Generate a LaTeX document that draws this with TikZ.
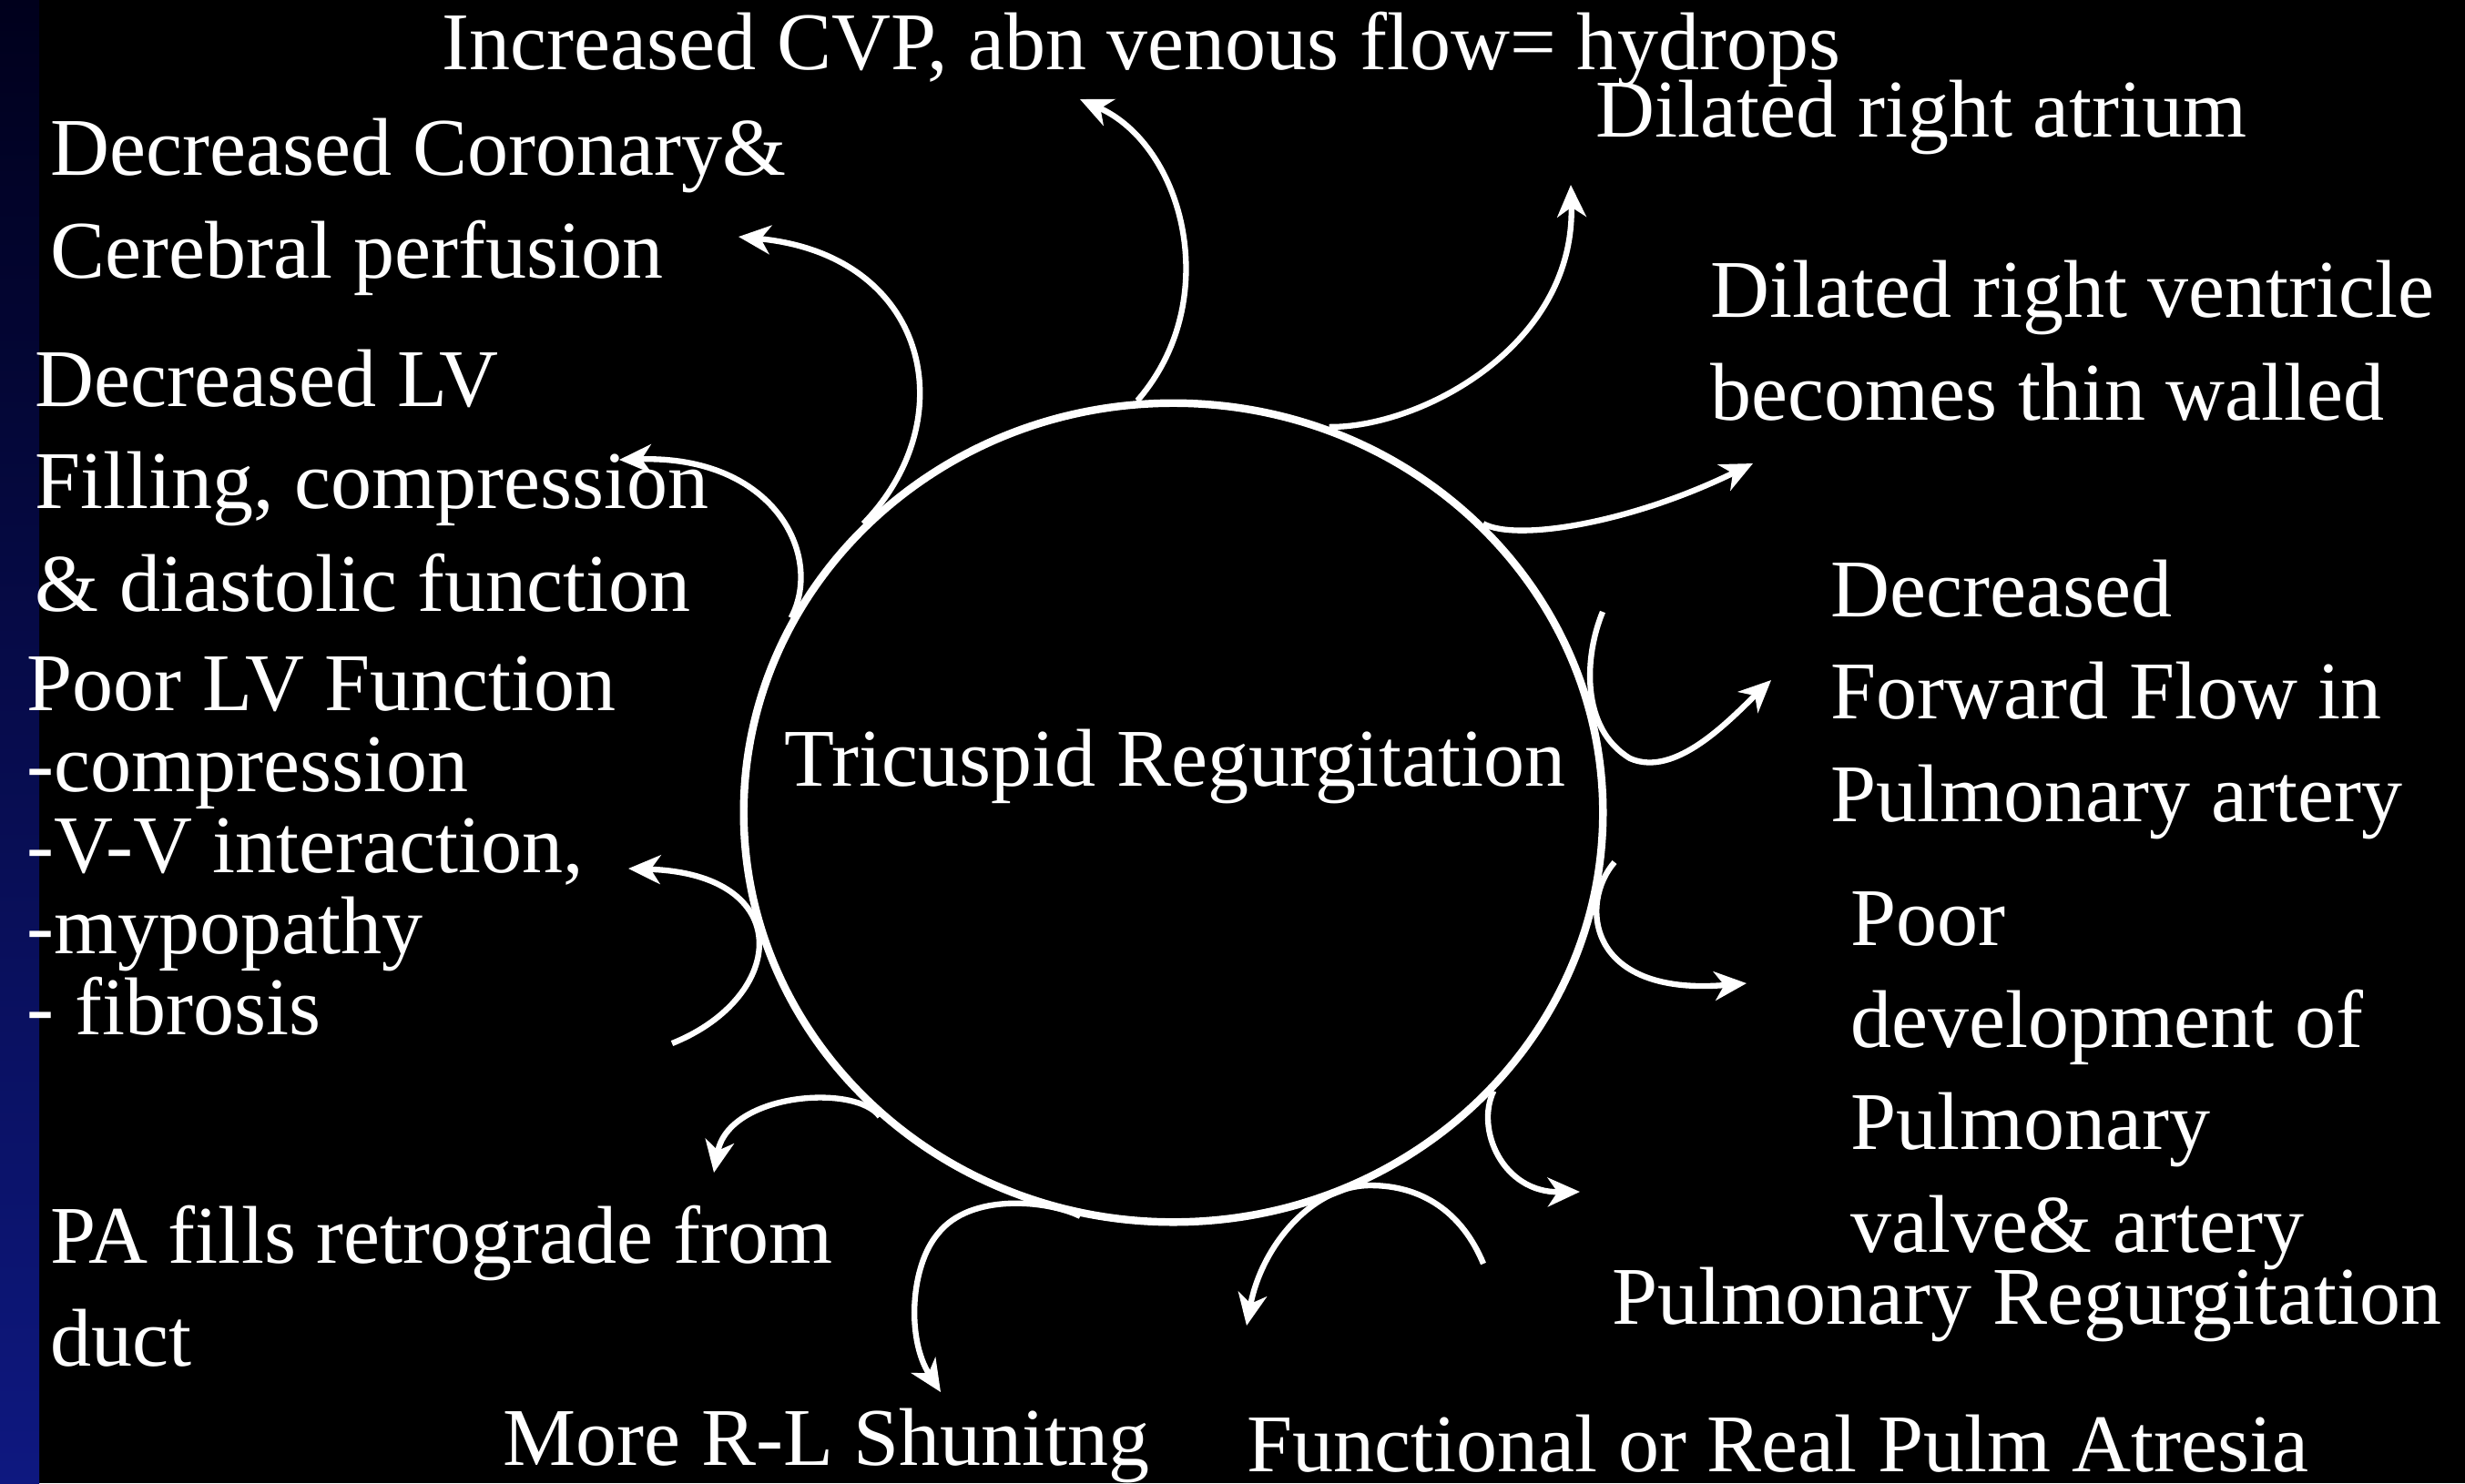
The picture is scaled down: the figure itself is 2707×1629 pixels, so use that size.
\documentclass[tikz,border=0pt]{standalone}
\usepackage{fontspec}
\setmainfont{Liberation Serif}
\usetikzlibrary{arrows.meta,shapes.geometric}
\definecolor{stripTop}{RGB}{0,0,28}
\definecolor{stripBot}{RGB}{14,24,128}
\begin{document}
\begin{tikzpicture}[x=0.01cm,y=-0.01cm,
  % multi-line labels are placed by the baseline of their last line
  lbl/.style={text=white, inner sep=0pt, anchor=base west, align=left,
    font=\fontsize{25.6pt}{31.9pt}\selectfont},
  tight/.style={font=\fontsize{25.6pt}{25.3pt}\selectfont},
  flow/.style={draw=white, line width=1.8pt,
    -{Stealth[length=10pt,width=9pt,inset=3pt]}},
  ]
\useasboundingbox (0,0) rectangle (2707,1629);
\fill[black] (0,0) rectangle (2707,1629);
\shade[top color=stripTop, bottom color=stripBot] (0,0) rectangle (43,1629);

% central ring
\node[ellipse, draw=white, line width=2.4pt, minimum width=9.43cm,
  minimum height=8.99cm, inner sep=0pt] (tr) at (1288.5,892.5) {};
\node[lbl] (trl) at (861,863) {Tricuspid Regurgitation};

% consequences
\node[lbl] (cvp) at (485,76) {Increased CVP, abn venous flow= hydrops};
\node[lbl] (ra) at (1752,150) {Dilated right atrium};
\node[lbl] (cor) at (55,305) {Decreased Coronary\&\\Cerebral perfusion};
\node[lbl] (rv) at (1878,461) {Dilated right ventricle\\becomes thin walled};
\node[lbl] (lvf) at (38,671) {Decreased LV\\Filling, compression\\\& diastolic function};
\node[lbl,tight] (lvp) at (29,1136) {Poor LV Function\\-compression\\-V-V interaction,\\-mypopathy\\- fibrosis};
\node[lbl] (fwd) at (2010,902) {Decreased\\Forward Flow in\\Pulmonary artery};
\node[lbl] (pv) at (2032,1375) {Poor\\development of\\Pulmonary\\valve\& artery};
\node[lbl] (pr) at (1770,1454) {Pulmonary Regurgitation};
\node[lbl] (pa) at (55,1500) {PA fills retrograde from\\duct};
\node[lbl] (rl) at (552,1609) {More R-L Shunitng};
\node[lbl] (atr) at (1369,1616) {Functional or Real Pulm Atresia};

% free ends of the curved arrows
\coordinate (tA) at (1186,109);
\coordinate (tB) at (811,260);
\coordinate (tC) at (680,505);
\coordinate (sD) at (738,1146);
\coordinate (tD) at (690,954);
\coordinate (tE) at (784,1288);
\coordinate (mF) at (1030,1355);
\coordinate (tF) at (1033,1529);
\coordinate (sG) at (1629,1388);
\coordinate (mG) at (1505,1302);
\coordinate (tG) at (1369,1456);
\coordinate (tH) at (1735,1309);
\coordinate (sI) at (1773,947);
\coordinate (tI) at (1918,1080);
\coordinate (sJ) at (1760,672);
\coordinate (mJ) at (1790,833);
\coordinate (tJ) at (1945,747);
\coordinate (tK) at (1925,509);
\coordinate (tL) at (1725,203);

% arrows
\draw[flow] (tr.95.7) .. controls (1345,330) and (1300,160) .. (tA);
\draw[flow] (tr.137.6) .. controls (1060,460) and (1020,280) .. (tB);
\draw[flow] (tr.153.1) .. controls (905,610) and (850,500) .. (tC);
\draw[flow] (sD) .. controls (865,1095) and (875,960) .. (tD);
\draw[flow] (tr.226.3) .. controls (940,1190) and (800,1200) .. (tE);
\draw[flow] (tr.257.2) .. controls (1150,1318) and (1065,1310) .. (mF)
  .. controls (1000,1390) and (995,1470) .. (tF);
\draw[flow] (sG) .. controls (1605,1330) and (1560,1302) .. (mG)
  .. controls (1440,1302) and (1385,1370) .. (tG);
\draw[flow] (tr.319.2) .. controls (1620,1240) and (1650,1310) .. (tH);
\draw[flow] (sI) .. controls (1735,990) and (1740,1095) .. (tI);
\draw[flow] (sJ) .. controls (1740,720) and (1735,800) .. (mJ)
  .. controls (1840,855) and (1900,790) .. (tJ);
\draw[flow] (tr.43.2) .. controls (1665,595) and (1790,575) .. (tK);
\draw[flow] (tr.68.1) .. controls (1560,470) and (1730,380) .. (tL);
\end{tikzpicture}
\end{document}
